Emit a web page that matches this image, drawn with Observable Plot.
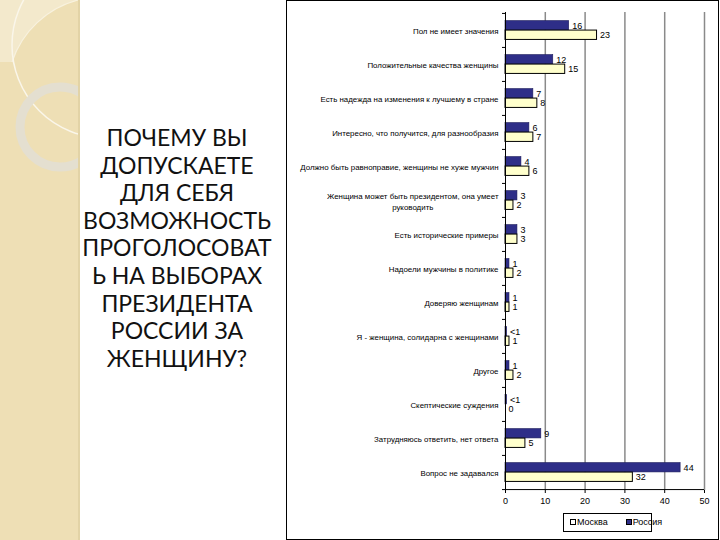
<!DOCTYPE html>
<html><head><meta charset="utf-8">
<script src="https://cdn.jsdelivr.net/npm/d3@7"></script>
<script src="https://cdn.jsdelivr.net/npm/@observablehq/plot@0.6"></script>
<style>
body{margin:0;background:#fff;}
#page{position:relative;width:720px;height:540px;overflow:hidden;background:#fff;}
#deco{position:absolute;left:0;top:0;}
#title{position:absolute;left:77px;width:200px;top:124px;text-align:center;font-family:Lato,"Open Sans",sans-serif;font-size:23px;line-height:27.6px;color:#111;white-space:pre;}
#panel{position:absolute;left:286px;top:0;width:431px;height:538px;border:1px solid #000;}
#chart{position:absolute;left:0;top:0;}
#legend{position:absolute;left:276px;top:512px;width:87px;height:17px;border:1px solid #000;font-family:"Liberation Sans",Arial,sans-serif;font-size:9px;line-height:17px;color:#000;white-space:nowrap;}
#legend .sw{display:inline-block;width:4px;height:4px;border:1px solid #000;vertical-align:0px;margin-right:1px;}
</style></head>
<body>
<div id="page">
  <svg id="deco" width="80" height="540">
    <rect x="0" y="0" width="80" height="540" fill="#eedfb5"/>
    <path d="M0,0 L78,0 A95,95 0 0 0 12,62 L0,62 Z" fill="#f3e9cc"/>
    <path d="M78,0 A95,95 0 0 0 12,62" fill="none" stroke="#f8f2df" stroke-width="1.2"/>
    <circle cx="105" cy="45" r="93" fill="none" stroke="#faf6ea" stroke-width="1.5"/>
    <circle cx="60" cy="127" r="40" fill="none" stroke="#e4dfd0" stroke-width="9"/>
    <rect x="78" y="0" width="2" height="540" fill="#e2d3a6"/>
  </svg>
  <div id="title"></div>
  <div id="panel">
    <div id="chart"></div>
    <div id="legend"><span style="margin-left:6px" class="sw" id="swM"></span><span id="lgM"></span><span style="margin-left:18px" class="sw" id="swR"></span><span id="lgR"></span></div>
  </div>
</div>
<script>
// ---- data ----
const titleLines = ["ПОЧЕМУ ВЫ","ДОПУСКАЕТЕ","ДЛЯ СЕБЯ","ВОЗМОЖНОСТЬ","ПРОГОЛОСОВАТ","Ь НА ВЫБОРАХ","ПРЕЗИДЕНТА","РОССИИ ЗА","ЖЕНЩИНУ?"];
const categories = [
  "Пол не имеет значения",
  "Положительные качества женщины",
  "Есть надежда на изменения к лучшему в стране",
  "Интересно, что получится, для разнообразия",
  "Должно быть равноправие, женщины не хуже мужчин",
  "Женщина может быть президентом, она умеет\nруководить",
  "Есть исторические примеры",
  "Надоели мужчины в политике",
  "Доверяю женщинам",
  "Я - женщина, солидарна с женщинами",
  "Другое",
  "Скептические суждения",
  "Затрудняюсь ответить, нет ответа",
  "Вопрос не задавался"
];
const russia = [16, 12, 7, 6, 4, 3, 3, 1, 1, 0.4, 1, 0.4, 9, 44];
const moscow = [23, 15, 8, 7, 6, 2, 3, 2, 1, 1, 2, 0, 5, 32];
const russiaLabels = ["16","12","7","6","4","3","3","1","1","<1","1","<1","9","44"];
const moscowLabels = ["23","15","8","7","6","2","3","2","1","1","2","0","5","32"];
const xTicks = [0, 10, 20, 30, 40, 50];
const seriesNames = ["Москва", "Россия"];
const colors = {"Москва": "#ffffcc", "Россия": "#2e2e88"};

// ---- build ----
document.getElementById("title").textContent = titleLines.join("\n");
document.getElementById("lgM").textContent = seriesNames[0];
document.getElementById("lgR").textContent = seriesNames[1];
document.getElementById("swM").style.background = "#fff";
document.getElementById("swR").style.background = colors["Россия"];

const rows = categories.map((c, i) => ({cat: c, ru: russia[i], mo: moscow[i], ruL: russiaLabels[i], moL: moscowLabels[i]}));
const W = 431, H = 512, mt = 11, mb = 23, ml = 218, mr = 14;
const bw = (H - mt - mb) / categories.length;
const barH = 9.5;
const last = categories[categories.length - 1];

const chart = Plot.plot({
  width: W, height: H, marginTop: mt, marginBottom: mb, marginLeft: ml, marginRight: mr,
  style: {fontFamily: '"Liberation Sans", Arial, sans-serif', fontSize: "9px", color: "#000", background: "transparent"},
  x: {domain: [0, 50], ticks: xTicks},
  y: {type: "band", domain: categories, padding: 0},
  marks: [
    Plot.ruleX(xTicks.slice(1), {stroke: "#8a8a8a", strokeWidth: 1.5}),
    Plot.barX(rows, {y: "cat", x: "ru", fill: colors["Россия"], stroke: "#1c1c5c", strokeWidth: 0.6, insetTop: bw / 2 - barH, insetBottom: bw / 2}),
    Plot.barX(rows, {y: "cat", x: "mo", fill: colors["Москва"], stroke: "#000", strokeWidth: 1, insetTop: bw / 2, insetBottom: bw / 2 - barH}),
    Plot.text(rows, {y: "cat", x: "ru", text: "ruL", dx: 3, dy: -barH / 2, textAnchor: "start", fontSize: 9}),
    Plot.text(rows, {y: "cat", x: "mo", text: "moL", dx: 3, dy: barH / 2, textAnchor: "start", fontSize: 9}),
    Plot.ruleX([0], {stroke: "#000", strokeWidth: 1}),
    Plot.ruleY(categories, {dy: -bw / 2, x1: 0, x2: 0, insetLeft: -3, stroke: "#000"}),
    Plot.ruleY([last], {dy: bw / 2, insetLeft: -3, stroke: "#000"}),
    Plot.axisX({ticks: xTicks, tickSize: 3, tickPadding: 4, fontSize: 9, label: null}),
    Plot.axisY({tickSize: 0, tickPadding: 7, label: null, fontSize: 7.9, lineHeight: 1.4})
  ]
});
document.getElementById("chart").append(chart);

// center multi-line category label like the original
chart.querySelectorAll('[aria-label="y-axis tick label"] text').forEach(t => {
  const ts = t.querySelectorAll("tspan");
  if (ts.length > 1) {
    let w = 0;
    ts.forEach(s => { w = Math.max(w, s.getComputedTextLength()); });
    t.setAttribute("text-anchor", "middle");
    const tr = t.getAttribute("transform") || "";
    t.setAttribute("transform", tr + ` translate(${-w / 2},0)`);
  }
});
</script>
</body></html>
